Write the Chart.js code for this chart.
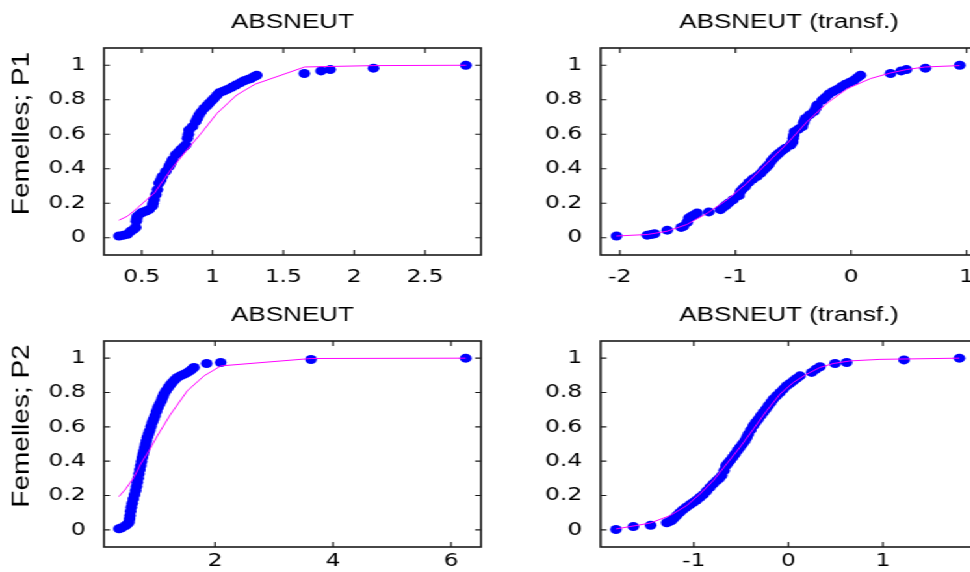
<!DOCTYPE html>
<html>
<head>
<meta charset="utf-8">
<script src="https://cdn.jsdelivr.net/npm/chart.js@4/dist/chart.umd.min.js"></script>
<style>
  html, body { margin: 0; padding: 0; background: #fff; overflow: hidden; }
  body { width: 970px; height: 572px; position: relative; }
  /* the original figure is stretched horizontally, so is this one */
  #fig { position: absolute; left: 0; top: 0; width: 760px; height: 572px;
         transform: scaleX(1.3); transform-origin: 0 0; }
  #fig canvas { position: absolute; }
</style>
</head>
<body>
<div id="fig">
  <canvas id="c1" width="376" height="290" style="left:0;top:0"></canvas>
  <canvas id="c2" width="376" height="290" style="left:381.5px;top:0"></canvas>
  <canvas id="c3" width="376" height="282" style="left:0;top:290px"></canvas>
  <canvas id="c4" width="376" height="282" style="left:381.5px;top:290px"></canvas>
</div>
<script>
// ---- data ----
const yTicks = [0, 0.2, 0.4, 0.6, 0.8, 1];
const yTickLabels = ["0", "0.2", "0.4", "0.6", "0.8", "1"];

// Femelles; P1 - ABSNEUT
const p1Ticks = [0.5, 1, 1.5, 2, 2.5];
const p1TickLabels = ["0.5", "1", "1.5", "2", "2.5"];
const p1X = [0.340,0.372,0.399,0.422,0.445,0.458,0.462,0.465,0.469,0.490,0.505,0.530,0.552,0.575,0.580,0.587,0.600,0.611,0.622,0.635,0.646,0.670,0.693,0.705,0.717,0.740,0.758,0.775,0.795,0.811,0.823,0.830,0.834,0.858,0.881,0.893,0.905,0.920,0.940,0.960,0.976,0.995,1.011,1.030,1.046,1.075,1.105,1.135,1.164,1.195,1.223,1.250,1.270,1.295,1.312,1.648,1.766,1.831,2.136,2.788];
const p1Y = [0.010,0.015,0.020,0.038,0.050,0.060,0.096,0.110,0.125,0.140,0.148,0.155,0.163,0.183,0.200,0.221,0.250,0.279,0.317,0.335,0.356,0.385,0.413,0.432,0.452,0.481,0.495,0.510,0.525,0.538,0.577,0.600,0.625,0.644,0.673,0.692,0.712,0.730,0.750,0.765,0.779,0.795,0.808,0.825,0.840,0.850,0.860,0.872,0.885,0.898,0.910,0.918,0.923,0.935,0.942,0.952,0.967,0.975,0.983,1.000];
const p1FitX = [0.34,0.40,0.47,0.59,0.705,0.82,0.92,1.03,1.17,1.30,1.65,2.14,2.79];
const p1FitY = [0.102,0.125,0.173,0.26,0.394,0.51,0.606,0.72,0.827,0.89,0.99,0.998,1.0];

// Femelles; P1 - ABSNEUT (transf.)
const p2Ticks = [-2, -1, 0, 1];
const p2TickLabels = ["-2", "-1", "0", "1"];
const p2X = [-2.029,-1.763,-1.730,-1.700,-1.590,-1.470,-1.450,-1.417,-1.403,-1.380,-1.350,-1.331,-1.230,-1.129,-1.100,-1.080,-1.057,-1.020,-0.970,-0.956,-0.935,-0.913,-0.884,-0.850,-0.812,-0.780,-0.754,-0.730,-0.711,-0.690,-0.668,-0.645,-0.624,-0.595,-0.567,-0.523,-0.505,-0.500,-0.495,-0.489,-0.455,-0.422,-0.410,-0.394,-0.360,-0.322,-0.305,-0.293,-0.249,-0.220,-0.192,-0.155,-0.120,-0.085,-0.048,-0.010,0.025,0.055,0.082,0.342,0.434,0.480,0.644,0.941];
const p2Y = [0.010,0.015,0.019,0.023,0.044,0.060,0.066,0.090,0.115,0.125,0.135,0.144,0.150,0.163,0.179,0.190,0.202,0.220,0.244,0.269,0.285,0.298,0.321,0.340,0.356,0.375,0.394,0.410,0.423,0.445,0.462,0.477,0.490,0.505,0.519,0.538,0.555,0.577,0.595,0.615,0.630,0.644,0.668,0.692,0.712,0.731,0.750,0.769,0.798,0.815,0.833,0.848,0.860,0.875,0.890,0.902,0.913,0.928,0.942,0.952,0.967,0.975,0.983,1.000];
const p2FitX = [-2.03,-1.76,-1.59,-1.42,-1.24,-1.07,-0.90,-0.725,-0.55,-0.38,-0.21,-0.03,0.17,0.34,0.48,0.64,0.94];
const p2FitY = [0.010,0.019,0.038,0.077,0.144,0.221,0.317,0.433,0.548,0.673,0.779,0.865,0.923,0.955,0.975,0.990,0.998];

// Femelles; P2 - ABSNEUT
const p3Ticks = [2, 4, 6];
const p3TickLabels = ["2", "4", "6"];
const p3X = [0.373,0.420,0.486,0.520,0.543,0.552,0.560,0.570,0.582,0.598,0.616,0.636,0.656,0.670,0.684,0.698,0.712,0.726,0.740,0.755,0.769,0.783,0.797,0.811,0.825,0.839,0.853,0.873,0.893,0.915,0.938,0.960,0.983,1.008,1.034,1.062,1.091,1.113,1.136,1.170,1.209,1.243,1.277,1.320,1.362,1.420,1.475,1.530,1.577,1.610,1.644,1.859,2.096,3.627,6.249];
const p3Y = [0.006,0.012,0.025,0.035,0.045,0.065,0.083,0.108,0.132,0.155,0.180,0.205,0.229,0.253,0.277,0.301,0.326,0.350,0.374,0.398,0.422,0.442,0.461,0.480,0.500,0.520,0.539,0.558,0.578,0.602,0.626,0.645,0.665,0.690,0.713,0.733,0.752,0.772,0.791,0.810,0.829,0.845,0.859,0.874,0.888,0.898,0.907,0.916,0.926,0.936,0.946,0.969,0.975,0.992,1.000];
const p3FitX = [0.373,0.486,0.627,0.74,0.882,1.023,1.249,1.531,1.814,2.10,3.627,6.249];
const p3FitY = [0.194,0.238,0.306,0.384,0.461,0.548,0.674,0.810,0.897,0.955,0.998,1.0];

// Femelles; P2 - ABSNEUT (transf.)
const p4Ticks = [-1, 0, 1];
const p4TickLabels = ["-1", "0", "1"];
const p4X = [-1.824,-1.640,-1.457,-1.287,-1.260,-1.235,-1.210,-1.182,-1.150,-1.118,-1.080,-1.041,-1.005,-0.970,-0.935,-0.900,-0.865,-0.829,-0.795,-0.758,-0.730,-0.706,-0.680,-0.660,-0.640,-0.617,-0.590,-0.564,-0.538,-0.512,-0.485,-0.459,-0.440,-0.423,-0.397,-0.370,-0.345,-0.318,-0.292,-0.265,-0.238,-0.212,-0.185,-0.159,-0.124,-0.088,-0.053,-0.018,0.018,0.053,0.088,0.123,0.247,0.290,0.335,0.494,0.617,1.224,1.810];
const p4Y = [0.002,0.019,0.027,0.041,0.048,0.054,0.068,0.083,0.100,0.116,0.132,0.147,0.160,0.174,0.190,0.205,0.226,0.248,0.268,0.287,0.300,0.316,0.345,0.374,0.388,0.403,0.422,0.442,0.462,0.481,0.500,0.519,0.538,0.558,0.582,0.607,0.626,0.645,0.665,0.684,0.703,0.723,0.742,0.762,0.781,0.800,0.820,0.839,0.853,0.868,0.882,0.897,0.917,0.935,0.950,0.969,0.975,0.990,1.000];
const p4FitX = [-1.824,-1.464,-1.252,-1.076,-0.935,-0.794,-0.653,-0.512,-0.370,-0.229,-0.088,0.053,0.194,0.335,0.476,0.653,0.97,1.81];
const p4FitY = [0.005,0.039,0.083,0.141,0.209,0.287,0.384,0.481,0.587,0.694,0.791,0.859,0.907,0.946,0.969,0.984,0.993,1.0];

// ---- drawing ----
const tickFont = { family: "DejaVu Sans", size: 18 };
const titleFont = { family: "Liberation Sans", size: 20, weight: "normal" };

function pairs(xs, ys) {
  return xs.map((x, i) => ({ x: x, y: ys[i] }));
}

// MATLAB like box with inward ticks, plus the squeezed ylabel
const frame = {
  id: "frame",
  afterDraw(chart, args, opts) {
    const ctx = chart.ctx, a = chart.chartArea;
    const xs = chart.scales.x, ys = chart.scales.y;
    ctx.save();
    ctx.strokeStyle = "#1a1a1a";
    ctx.lineWidth = 1.6;
    ctx.strokeRect(a.left, a.top, a.right - a.left, a.bottom - a.top);
    ctx.lineWidth = 1.2;
    ctx.beginPath();
    xs.ticks.forEach(t => {
      const px = xs.getPixelForValue(t.value);
      ctx.moveTo(px, a.bottom); ctx.lineTo(px, a.bottom - 5);
      ctx.moveTo(px, a.top); ctx.lineTo(px, a.top + 5);
    });
    ys.ticks.forEach(t => {
      const py = ys.getPixelForValue(t.value);
      ctx.moveTo(a.left, py); ctx.lineTo(a.left + 4.5, py);
      ctx.moveTo(a.right, py); ctx.lineTo(a.right - 4.5, py);
    });
    ctx.stroke();
    if (opts.ylabel) {
      ctx.fillStyle = "#000";
      ctx.font = "28px 'Liberation Sans'";
      ctx.textAlign = "center";
      ctx.textBaseline = "alphabetic";
      ctx.translate(22, (a.top + a.bottom) / 2 - 18);
      ctx.rotate(-Math.PI / 2);
      ctx.scale(1, 0.64);
      ctx.fillText(opts.ylabel, 0, 0);
    }
    ctx.restore();
  }
};

function panel(id, cfg) {
  new Chart(document.getElementById(id), {
    type: "scatter",
    data: {
      datasets: [
        { data: pairs(cfg.fitX, cfg.fitY), showLine: true, borderColor: "#ff00ff",
          borderWidth: 1, pointRadius: 0, tension: 0, fill: false },
        { data: pairs(cfg.x, cfg.y), backgroundColor: "#0000ff", borderWidth: 0,
          pointRadius: 4.5, pointHoverRadius: 4.5 }
      ]
    },
    options: {
      responsive: false,
      animation: false,
      devicePixelRatio: 1,
      events: [],
      layout: { padding: { left: 0, right: 6, top: 0, bottom: 0 } },
      plugins: {
        legend: { display: false },
        tooltip: { enabled: false },
        title: { display: true, text: cfg.title, font: titleFont, color: "#000",
                 fullSize: false, padding: { top: cfg.padTop, bottom: cfg.padBottom } },
        frame: { ylabel: cfg.ylabel }
      },
      scales: {
        x: {
          type: "linear", min: cfg.xmin, max: cfg.xmax,
          afterBuildTicks: s => { s.ticks = cfg.ticks.map(v => ({ value: v })); },
          afterFit: s => { s.height = cfg.xAxisH; },
          ticks: { font: tickFont, color: "#000", padding: cfg.xPad, maxRotation: 0, autoSkip: false,
                   callback: v => cfg.tickLabels[cfg.ticks.indexOf(v)] },
          grid: { display: false }, border: { display: false }
        },
        y: {
          type: "linear", min: -0.1, max: 1.1,
          afterBuildTicks: s => { s.ticks = yTicks.map(v => ({ value: v })); },
          afterFit: s => { s.width = 80; },
          ticks: { font: tickFont, color: "#000", padding: 6, autoSkip: false,
                   callback: v => yTickLabels[yTicks.indexOf(v)] },
          grid: { display: false }, border: { display: false }
        }
      }
    },
    plugins: [frame]
  });
}

panel("c1", { title: "ABSNEUT", ylabel: "Femelles; P1", x: p1X, y: p1Y, fitX: p1FitX, fitY: p1FitY,
  xmin: 0.234, xmax: 2.895, ticks: p1Ticks, tickLabels: p1TickLabels,
  padTop: 10.5, padBottom: 13.5, xAxisH: 35, xPad: 4 });
panel("c2", { title: "ABSNEUT (transf.)", x: p2X, y: p2Y, fitX: p2FitX, fitY: p2FitY,
  xmin: -2.167, xmax: 1.095, ticks: p2Ticks, tickLabels: p2TickLabels,
  padTop: 10.5, padBottom: 13.5, xAxisH: 35, xPad: 4 });
panel("c3", { title: "ABSNEUT", ylabel: "Femelles; P2", x: p3X, y: p3Y, fitX: p3FitX, fitY: p3FitY,
  xmin: 0.119, xmax: 6.508, ticks: p3Ticks, tickLabels: p3TickLabels,
  padTop: 13.5, padBottom: 13.5, xAxisH: 25, xPad: -4 });
panel("c4", { title: "ABSNEUT (transf.)", x: p4X, y: p4Y, fitX: p4FitX, fitY: p4FitY,
  xmin: -1.987, xmax: 2.002, ticks: p4Ticks, tickLabels: p4TickLabels,
  padTop: 13.5, padBottom: 13.5, xAxisH: 25, xPad: -4 });
</script>
</body>
</html>
